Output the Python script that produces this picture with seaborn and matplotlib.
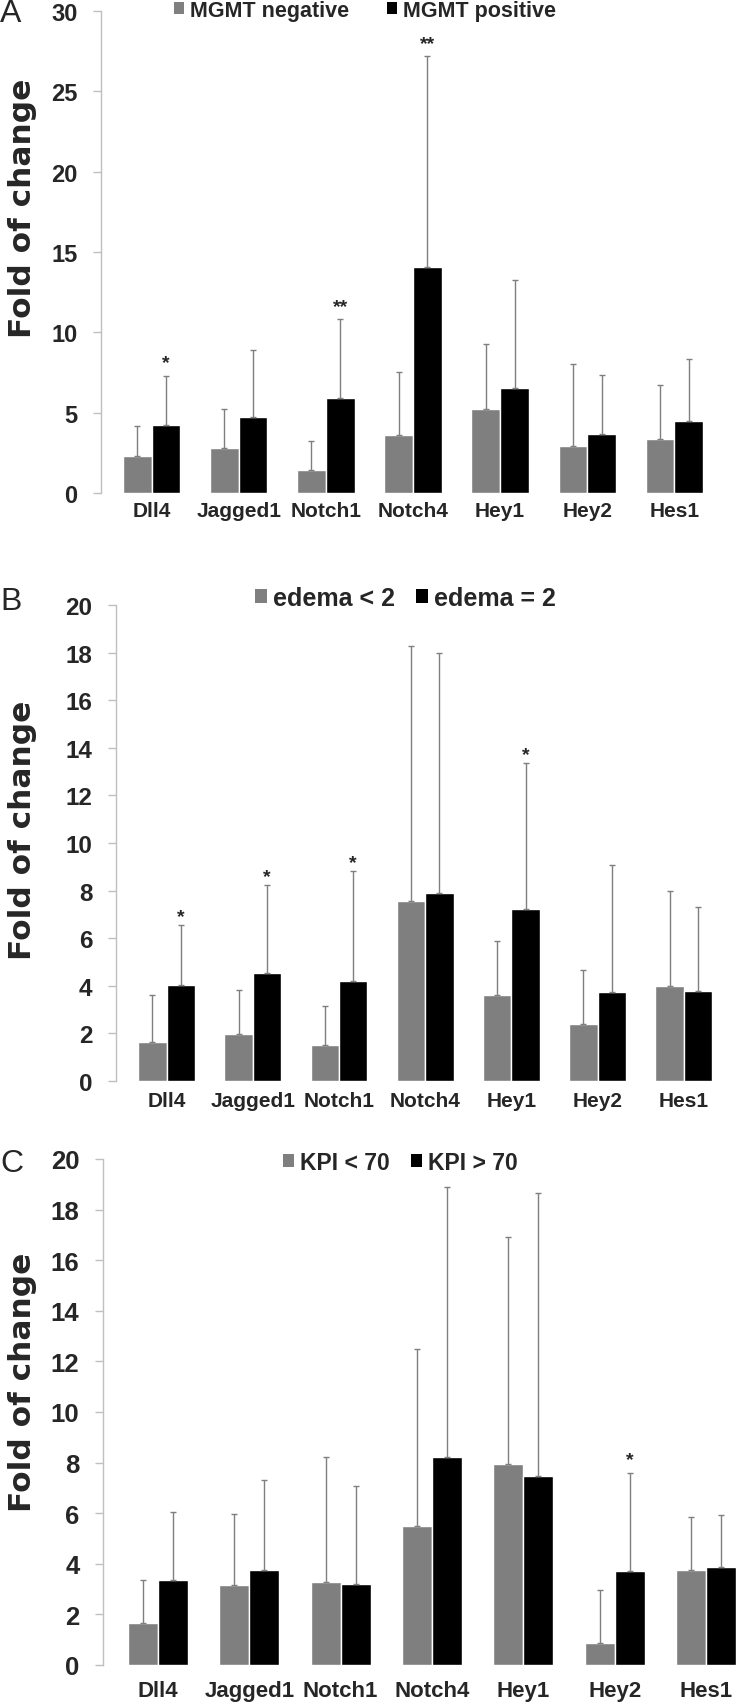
import numpy as np
import pandas as pd
import matplotlib
matplotlib.use('Agg')
import matplotlib.pyplot as plt
from matplotlib.patches import Patch
import seaborn as sns

genes = ['Dll4', 'Jagged1', 'Notch1', 'Notch4', 'Hey1', 'Hey2', 'Hes1']

# panel A - MGMT status
mgmt_labels = ['MGMT negative', 'MGMT positive']
mgmt_neg = [2.3, 2.8, 1.45, 3.6, 5.2, 2.95, 3.35]
mgmt_neg_top = [4.15, 5.2, 3.25, 7.55, 9.3, 8.05, 6.75]
mgmt_pos = [4.25, 4.75, 5.9, 14.05, 6.55, 3.7, 4.5]
mgmt_pos_top = [7.3, 8.9, 10.8, 27.2, 13.25, 7.35, 8.35]
mgmt_stars = {'Dll4': '*', 'Notch1': '**', 'Notch4': '**'}

# panel B - edema
edema_labels = ['edema < 2', 'edema = 2']
edema_low = [1.63, 1.99, 1.52, 7.58, 3.62, 2.41, 4.0]
edema_low_top = [3.62, 3.84, 3.17, 18.29, 5.87, 4.66, 7.97]
edema_high = [4.04, 4.53, 4.19, 7.92, 7.22, 3.73, 3.79]
edema_high_top = [6.57, 8.23, 8.82, 18.0, 13.35, 9.08, 7.33]
edema_stars = {'Dll4': '*', 'Jagged1': '*', 'Notch1': '*', 'Hey1': '*'}

# panel C - KPI
kpi_labels = ['KPI < 70', 'KPI > 70']
kpi_low = [1.65, 3.17, 3.3, 5.49, 7.93, 0.88, 3.75]
kpi_low_top = [3.36, 5.96, 8.24, 12.48, 16.9, 2.96, 5.84]
kpi_high = [3.34, 3.75, 3.19, 8.21, 7.49, 3.71, 3.86]
kpi_high_top = [6.04, 7.32, 7.09, 18.89, 18.66, 7.6, 5.92]
kpi_stars = {'Hey2': '*'}

W, H = 740, 1706
GRAY = '#7f7f7f'
AXCOL = '#bfbfbf'

sns.set_style('white')
plt.rcParams['font.family'] = ['Liberation Sans', 'DejaVu Sans']
plt.rcParams['font.weight'] = 'bold'

fig = plt.figure(figsize=(W / 100, H / 100), dpi=100)


def px_axes(left, right, top, bottom):
    return fig.add_axes([left / W, 1 - bottom / H, (right - left) / W, (bottom - top) / H])


def plot_panel(ax, labels, low, low_top, high, high_top, stars, ymax, step, xlim,
               tick_size, cat_size, cat_pad, ypad, star_off):
    df = pd.DataFrame({
        'gene': genes * 2,
        'group': [labels[0]] * len(genes) + [labels[1]] * len(genes),
        'fold': low + high,
    })
    sns.barplot(data=df, x='gene', y='fold', hue='group', palette=[GRAY, 'black'],
                width=0.66, saturation=1, errorbar=None, legend=False, ax=ax)
    tops = [low_top, high_top]
    for cont, top in zip(ax.containers, tops):
        xs = [b.get_x() + b.get_width() / 2 for b in cont]
        hs = [b.get_height() for b in cont]
        up = np.array(top) - np.array(hs)
        ax.errorbar(xs, hs, yerr=[np.zeros(len(hs)), up], fmt='none',
                    ecolor=GRAY, elinewidth=1, capsize=2.5, capthick=1)
    black = ax.containers[1]
    for gene, mark in stars.items():
        i = genes.index(gene)
        b = black[i]
        ax.annotate(mark, (b.get_x() + b.get_width() / 2, high_top[i]),
                    xytext=(0, star_off), textcoords='offset points',
                    ha='center', va='bottom', fontsize=14, fontweight='bold')
    ax.set_ylim(0, ymax)
    ax.set_xlim(*xlim)
    ax.set_yticks(np.arange(0, ymax + 0.1, step))
    ax.set_xlabel('')
    ax.set_ylabel('')
    for s in ['top', 'right', 'bottom']:
        ax.spines[s].set_visible(False)
    ax.spines['left'].set_color(AXCOL)
    ax.spines['left'].set_linewidth(1)
    ax.tick_params(axis='y', direction='out', length=6, width=1, color=AXCOL,
                   labelsize=tick_size, pad=ypad, left=True)
    ax.tick_params(axis='x', length=0, labelsize=cat_size, pad=cat_pad)
    for t in ax.get_xticklabels() + ax.get_yticklabels():
        t.set_fontweight('bold')


axA = px_axes(101, 718, 12, 494)
plot_panel(axA, mgmt_labels, mgmt_neg, mgmt_neg_top, mgmt_pos, mgmt_pos_top, mgmt_stars,
           30, 5, (-0.58, 6.5), 17, 15, 6, 11, 3)

axB = px_axes(116, 727, 606, 1082)
plot_panel(axB, edema_labels, edema_low, edema_low_top, edema_high, edema_high_top, edema_stars,
           20, 2, (-0.586, 6.5), 17.5, 15, 7, 11, 0)

axC = px_axes(103, 740, 1160, 1666)
plot_panel(axC, kpi_labels, kpi_low, kpi_low_top, kpi_high, kpi_high_top, kpi_stars,
           20, 2, (-0.602, 6.372), 18.5, 16, 11, 11, 3)

# legends
for labels, x0, y0, fs, gap in [(mgmt_labels, 174, 11, 15.5, 1.8),
                                (edema_labels, 255, 599, 18, 0.85),
                                (kpi_labels, 283, 1163, 16.5, 0.95)]:
    handles = [Patch(facecolor=GRAY, edgecolor='none'), Patch(facecolor='black', edgecolor='none')]
    fig.legend(handles, labels, loc='center left', bbox_to_anchor=(x0 / W, 1 - y0 / H),
               ncol=2, frameon=False, handlelength=0.47, handleheight=0.47,
               handletextpad=0.25, columnspacing=gap, borderpad=0, borderaxespad=0,
               prop={'weight': 'bold', 'size': fs})

# y labels and panel letters
for y_lab, y_let, letter in [(208, 14, 'A'), (830, 602, 'B'), (1382, 1164, 'C')]:
    fig.text(23 / W, 1 - y_lab / H, 'Fold of change', rotation=90, ha='center', va='center',
             fontsize=22.5, fontweight='bold', family='DejaVu Sans')
    fig.text(0, 1 - y_let / H, letter, ha='left', va='center', fontsize=23,
             fontweight='normal', family='Liberation Sans')

fig.savefig('out.png', dpi=100)
